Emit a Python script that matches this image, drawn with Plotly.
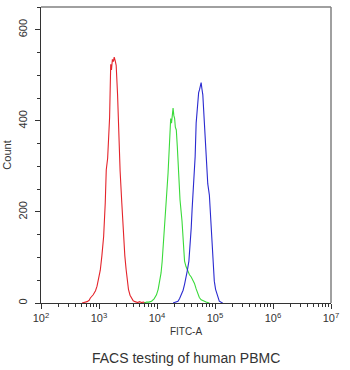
import plotly.graph_objects as go

# FITC-A intensity as log10 exponent, and event counts
red_x = [2.709, 2.75, 2.795, 2.83, 2.851, 2.90, 2.94, 2.966, 2.99, 3.022, 3.05, 3.080, 3.108, 3.125, 3.149,
         3.166, 3.183, 3.193, 3.202, 3.215, 3.231, 3.248, 3.262, 3.279, 3.296, 3.320, 3.347, 3.364, 3.393,
         3.422, 3.445, 3.467, 3.49, 3.508, 3.535, 3.564, 3.59, 3.621, 3.667, 3.70, 3.73, 3.764, 3.80]
red_y = [0, 1, 3, 6, 11, 18, 27, 37, 50, 72, 104, 146, 220, 292, 318,
         352, 408, 470, 524, 512, 535, 530, 540, 532, 522, 458, 348, 290, 220,
         146, 104, 74, 48, 30, 17, 10, 5, 3, 1, 3, 1, 2, 0]

green_x = [3.78, 3.821, 3.86, 3.906, 3.95, 3.991, 4.02, 4.048, 4.07, 4.089, 4.11, 4.133, 4.162, 4.191,
           4.219, 4.236, 4.250, 4.265, 4.277, 4.290, 4.304, 4.316, 4.333, 4.350, 4.373, 4.397, 4.431,
           4.455, 4.475, 4.50, 4.533, 4.56, 4.590, 4.62, 4.646, 4.675, 4.704, 4.73, 4.761, 4.80, 4.846, 4.903]
green_y = [0, 2, 2, 4, 9, 18, 30, 47, 66, 91, 125, 164, 230, 286,
           358, 405, 395, 420, 428, 412, 405, 386, 380, 344, 285, 226, 180,
           132, 92, 80, 70, 62, 57, 50, 43, 31, 21, 12, 7, 4, 2, 0]

blue_x = [4.277, 4.32, 4.362, 4.39, 4.419, 4.45, 4.475, 4.50, 4.521, 4.550, 4.570, 4.590, 4.605, 4.619,
          4.636, 4.658, 4.675, 4.690, 4.704, 4.718, 4.732, 4.745, 4.761, 4.775, 4.790, 4.817, 4.846,
          4.875, 4.903, 4.932, 4.961, 4.988, 5.010, 5.034, 5.055, 5.074, 5.10, 5.132]
blue_y = [0, 2, 4, 10, 18, 28, 41, 55, 70, 92, 125, 165, 205, 238,
          264, 322, 395, 425, 447, 462, 468, 478, 484, 470, 457, 395, 322,
          262, 237, 164, 92, 48, 30, 18, 9, 4, 2, 0]

x_tick_vals = [2, 3, 4, 5, 6, 7]
x_tick_text = ["10<sup>2</sup>", "10<sup>3</sup>", "10<sup>4</sup>",
               "10<sup>5</sup>", "10<sup>6</sup>", "10<sup>7</sup>"]
x_minor_vals = [d + m for d in range(2, 7) for m in
                [0.30103, 0.47712, 0.60206, 0.69897, 0.77815, 0.84510, 0.90309, 0.95424]]
y_tick_vals = [0, 200, 400, 600]

FONT = "Liberation Sans, Arial, sans-serif"

fig = go.Figure()
for xs, ys, col in [(red_x, red_y, "#e4242b"), (green_x, green_y, "#3ada3a"), (blue_x, blue_y, "#2b2bd0")]:
    fig.add_trace(go.Scatter(x=xs, y=ys, mode="lines",
                             line=dict(color=col, width=1.1), showlegend=False, hoverinfo="skip"))

fig.update_layout(
    width=350, height=370,
    margin=dict(l=39, r=19, t=7, b=67),
    paper_bgcolor="white", plot_bgcolor="white",
    font=dict(family=FONT, color="#333333"),
    showlegend=False,
)
fig.update_xaxes(
    range=[2, 7], showgrid=False, zeroline=False,
    showline=True, linecolor="#333333", linewidth=1,
    tickmode="array", tickvals=x_tick_vals, ticktext=x_tick_text,
    ticks="outside", ticklen=5, tickcolor="#333333", tickwidth=1,
    tickfont=dict(size=11, color="#333333"),
    minor=dict(tickmode="array", tickvals=x_minor_vals, ticks="outside", ticklen=3,
               tickcolor="#333333", showgrid=False),
    title=dict(text="FITC-A", font=dict(size=10, color="#333333"), standoff=4),
)
fig.update_yaxes(
    range=[0, 650], showgrid=False, zeroline=False,
    showline=True, linecolor="#333333", linewidth=1,
    tickmode="array", tickvals=y_tick_vals,
    ticks="outside", ticklen=5, tickcolor="#333333", tickwidth=1,
    tickangle=-90, tickfont=dict(size=11, color="#333333"), ticklabelstandoff=4,
    minor=dict(dtick=50, ticks="outside", ticklen=3, tickcolor="#333333", showgrid=False),
    title=dict(text="Count", font=dict(size=11, color="#333333"), standoff=2),
)
# top and right frame lines (lighter grey)
fig.add_shape(type="line", xref="paper", yref="paper", x0=0, x1=1, y0=1, y1=1,
              line=dict(color="#808080", width=1.5))
fig.add_shape(type="line", xref="paper", yref="paper", x0=1, x1=1, y0=0, y1=1,
              line=dict(color="#808080", width=1.5))
fig.add_annotation(text="FACS testing of human PBMC", xref="paper", yref="paper",
                   x=0.5, y=-0.186, xanchor="center", yanchor="middle", showarrow=False,
                   font=dict(size=14, color="#333333", family=FONT))

fig.write_html("out.html")
